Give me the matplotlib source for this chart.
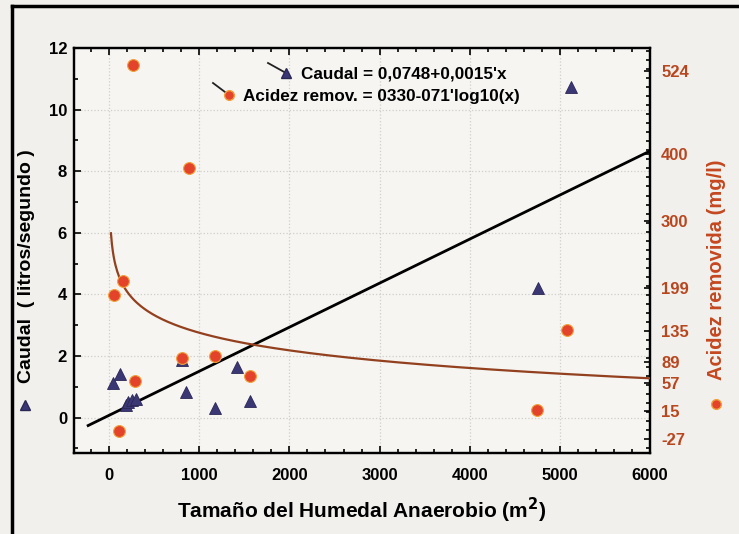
import numpy as np
import matplotlib
matplotlib.use("Agg")
import matplotlib.pyplot as plt
from matplotlib.ticker import MultipleLocator, FixedLocator
from matplotlib.lines import Line2D

plt.rcParams['font.family'] = ['Liberation Sans', 'DejaVu Sans']
plt.rcParams['font.weight'] = 'bold'
plt.rcParams['axes.unicode_minus'] = False

# caudal (litros/segundo) vs area
area_caudal = [44, 119, 182, 213, 249, 293, 811, 852, 1174, 1415, 1563, 4760, 5119]
caudal = [1.11, 1.40, 0.40, 0.50, 0.57, 0.60, 1.87, 0.84, 0.32, 1.63, 0.54, 4.20, 10.74]

# acidez removida (mg/l) vs area
area_acidez = [52, 111, 159, 260, 286, 811, 886, 1174, 1563, 4749, 5074]
acidez = [188, -15, 209, 533, 60, 94, 379, 97, 67, 17, 137]

# fitted lines as drawn
caudal_fit = (0.0748, 0.00143)     # a + b*x
acidez_fit = (395.0, 87.6)         # a - b*log10(x)

x_ticks = [0, 1000, 2000, 3000, 4000, 5000, 6000]
y_ticks = [0, 2, 4, 6, 8, 10, 12]
r_ticks = [-27, 15, 57, 89, 135, 199, 300, 400, 524]

tri_col = '#3b3775'
dot_col = '#e2432a'
red_txt = '#b8461f'

fig = plt.figure(figsize=(7.39, 5.34), dpi=100, facecolor='#f1f0ec')
ax = fig.add_axes([74/739, 1-453/534, (650-74)/739, (453-48)/534])
ax.set_facecolor('#f6f5f2')

ax.set_xlim(-390, 6000)
ax.set_ylim(-1.15, 12)
ax.set_xticks(x_ticks)
ax.set_yticks(y_ticks)
ax.xaxis.set_minor_locator(MultipleLocator(200))
ax.yaxis.set_minor_locator(MultipleLocator(1))
ax.grid(True, which='major', color='#cfcec9', ls=':', lw=0.9)
ax.tick_params(which='both', direction='in', top=True, right=False,
               labelsize=12, width=1.2, colors='black')
ax.tick_params(which='major', length=5)
ax.tick_params(which='minor', length=3)
ax.tick_params(axis='x', pad=11)
ax.tick_params(axis='y', pad=5)
for s in ax.spines.values():
    s.set_linewidth(1.6)

xs = np.array([-233, 6000])
ax.plot(xs, caudal_fit[0] + caudal_fit[1]*xs, color='black', lw=2.0, zorder=3)
ax.plot(area_caudal, caudal, ls='none', marker='^', ms=8, mfc=tri_col,
        mec='#2a2755', mew=0.6, zorder=5)

ax2 = ax.twinx()
ax2.set_ylim(5.3 + 46.07*(-1.15), 5.3 + 46.07*12)
ax2.yaxis.set_major_locator(FixedLocator(r_ticks))
ax2.yaxis.set_minor_locator(MultipleLocator(13.5))
ax2.tick_params(which='both', direction='in', labelsize=12, labelcolor=red_txt,
                width=1.2, pad=8)
ax2.tick_params(which='major', length=4)
ax2.tick_params(which='minor', length=3)
for s in ax2.spines.values():
    s.set_linewidth(1.6)

xc = np.linspace(20, 6000, 600)
ax2.plot(xc, acidez_fit[0] - acidez_fit[1]*np.log10(xc), color='#93401f',
         lw=1.6, zorder=3)
ax2.plot(area_acidez, acidez, ls='none', marker='o', ms=8.5, mfc=dot_col,
         mec='#f2a03a', mew=0.8, zorder=5)

ax.set_xlabel('Tamaño del Humedal Anaerobio (m$^{\\mathbf{2}}$)', fontsize=15,
              fontweight='bold', labelpad=9)
fig.text(27/739, 1-266/534, 'Caudal  ( litros/segundo )', rotation=90,
         fontsize=14, fontweight='bold', ha='center', va='center')
fig.text(717/739, 1-270/534, 'Acidez removida (mg/l)', rotation=90,
         fontsize=14.5, fontweight='bold', color='#c4471f', ha='center', va='center')

# marker keys beside axis titles
fig.add_artist(Line2D([25/739], [1-405/534], marker='^', ms=7, mfc=tri_col,
                      mec='#2a2755', ls='none'))
fig.add_artist(Line2D([716/739], [1-404/534], marker='o', ms=7, mfc=dot_col,
                      mec='#f2a03a', ls='none'))

# legend entries with pointer lines
for (x0, y0, x1, y1, mk, fc, ec, tx, label) in [
        (268, 63, 286, 73, '^', tri_col, '#2a2755', 301, 'Caudal = 0,0748+0,0015\'x'),
        (213, 83, 229, 95, 'o', dot_col, '#f2a03a', 243, 'Acidez remov. = 0330-071\'log10(x)')]:
    fig.add_artist(Line2D([x0/739, x1/739], [1-y0/534, 1-y1/534], color='#222222', lw=1.3))
    fig.add_artist(Line2D([x1/739], [1-y1/534], marker=mk, ms=7, mfc=fc, mec=ec, ls='none'))
    fig.text(tx/739, 1-(y1+1)/534, label, fontsize=12.3, fontweight='bold',
             ha='left', va='center')

# scan frame
fig.add_artist(Line2D([12/739, 12/739], [0, 1-6/534], color='black', lw=2.5))
fig.add_artist(Line2D([12/739, 1], [1-6/534, 1-6/534], color='black', lw=2.5))

fig.savefig('out.png', dpi=100, facecolor=fig.get_facecolor())
